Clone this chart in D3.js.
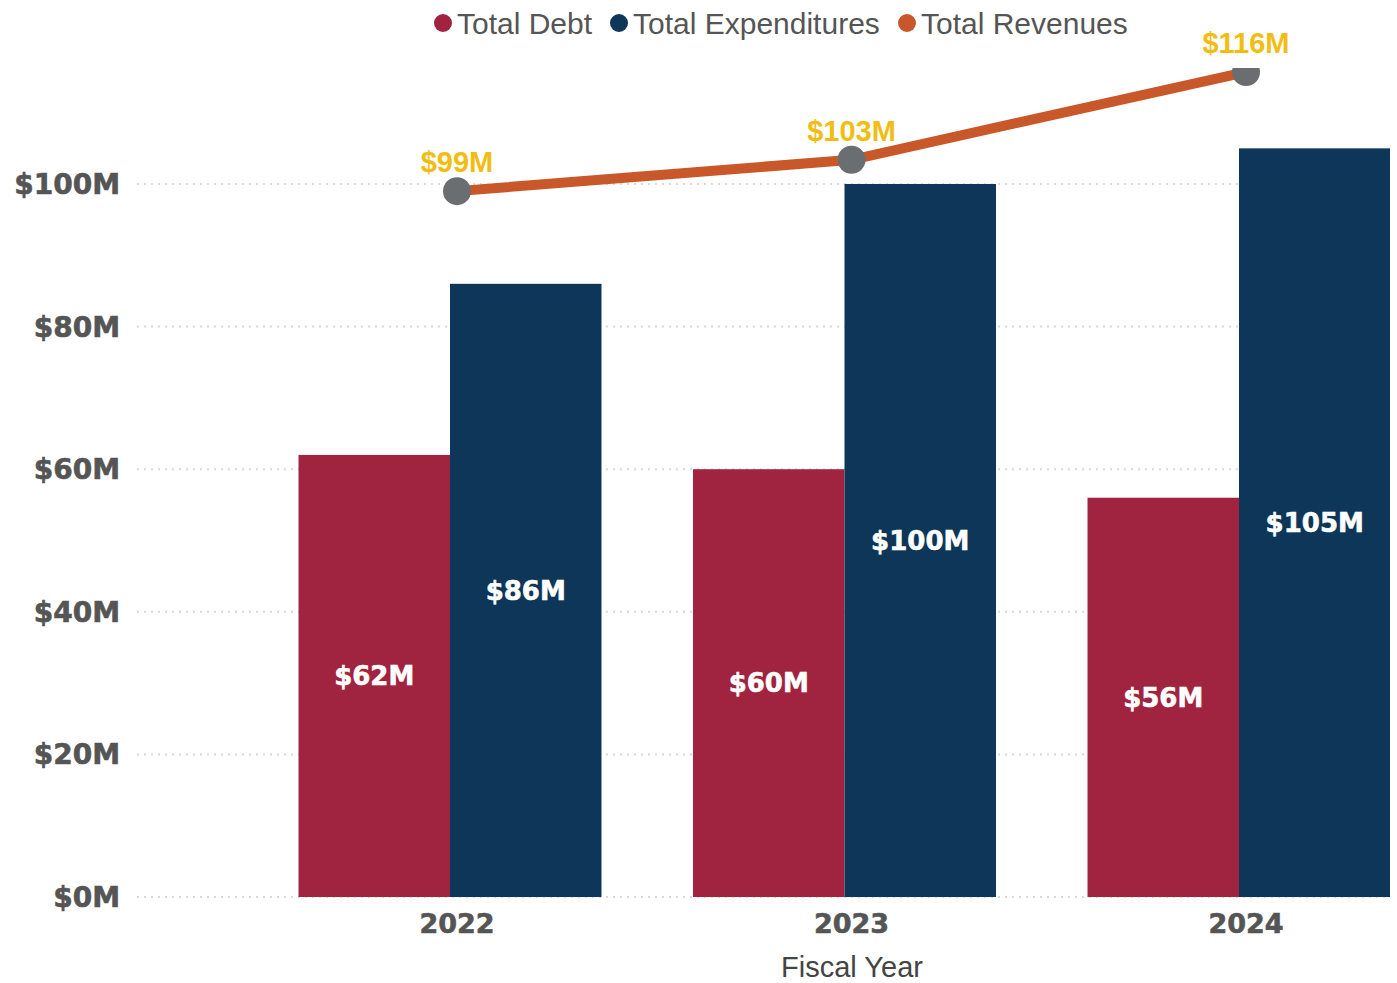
<!DOCTYPE html>
<html><head><meta charset="utf-8">
<script src="https://cdn.jsdelivr.net/npm/d3@7"></script>
<style>html,body{margin:0;padding:0;background:#fff;}</style>
</head><body>
<svg id="chart" width="1397" height="983"></svg>
<script>
const years = ["2022", "2023", "2024"];
const totalDebt = [62, 60, 56];
const totalExpenditures = [86, 100, 105];
const totalRevenues = [99, 103.4, 115.7];
const yTicks = [0, 20, 40, 60, 80, 100];
const seriesNames = ["Total Debt", "Total Expenditures", "Total Revenues"];
const seriesColors = ["#a0243f", "#0d3659", "#c8572a"];

const svg = d3.select("#chart");
const plotTop = 68, plotBottom = 897, gridLeft = 137, plotRight = 1390;

const y = d3.scaleLinear().domain([0, 100]).range([897, 184]);
const x = d3.scaleBand().domain(years).range([252.75, 1436.25]).paddingInner(0.232).paddingOuter(0.116);
const sub = d3.scaleBand().domain(["debt", "exp"]).range([0, x.bandwidth()]);

svg.append("defs").append("clipPath").attr("id", "plotclip")
  .append("rect").attr("x", gridLeft).attr("y", plotTop).attr("width", plotRight - gridLeft).attr("height", plotBottom - plotTop + 2);

svg.append("g").selectAll("line").data(yTicks).join("line")
  .attr("x1", gridLeft).attr("x2", plotRight)
  .attr("y1", d => y(d)).attr("y2", d => y(d))
  .attr("stroke", "#d9d9d9").attr("stroke-width", 2).attr("stroke-dasharray", "2,5");

svg.append("g").selectAll("text").data(yTicks).join("text")
  .attr("x", 120).attr("y", d => y(d)).attr("dy", "0.36em")
  .attr("text-anchor", "end")
  .attr("font-family", "DejaVu Sans").attr("font-weight", "bold").attr("font-size", 28)
  .attr("fill", "#555").attr("stroke", "#555").attr("stroke-width", 0.6)
  .text(d => "$" + d + "M");

const plot = svg.append("g").attr("clip-path", "url(#plotclip)");

const rows = years.map((yr, i) => ({ yr, debt: totalDebt[i], exp: totalExpenditures[i], rev: totalRevenues[i] }));

["debt", "exp"].forEach((k, si) => {
  plot.append("g").selectAll("rect").data(rows).join("rect")
    .attr("x", d => x(d.yr) + sub(k))
    .attr("width", sub.bandwidth())
    .attr("y", d => y(d[k]))
    .attr("height", d => y(0) - y(d[k]))
    .attr("fill", seriesColors[si]);
  svg.append("g").selectAll("text").data(rows).join("text")
    .attr("x", d => x(d.yr) + sub(k) + sub.bandwidth() / 2)
    .attr("y", d => (y(d[k]) + y(0)) / 2).attr("dy", "0.36em")
    .attr("text-anchor", "middle")
    .attr("font-family", "DejaVu Sans").attr("font-weight", "bold").attr("font-size", 26)
    .attr("fill", "#fff").attr("stroke", "#fff").attr("stroke-width", 0.6)
    .text(d => "$" + d[k] + "M");
});

const lineOffset = 7;
const lx = d => x(d.yr) + x.bandwidth() / 2 + lineOffset;
plot.append("path").datum(rows)
  .attr("d", d3.line().x(lx).y(d => y(d.rev)))
  .attr("fill", "none").attr("stroke", seriesColors[2]).attr("stroke-width", 10);
plot.append("g").selectAll("circle").data(rows).join("circle")
  .attr("cx", lx).attr("cy", d => y(d.rev)).attr("r", 14)
  .attr("fill", "#6b6e70");
svg.append("g").selectAll("text").data(rows).join("text")
  .attr("x", lx).attr("y", d => y(d.rev) - 19)
  .attr("text-anchor", "middle")
  .attr("font-family", "Liberation Sans").attr("font-weight", "bold").attr("font-size", 29)
  .attr("fill", "#f2bd12").text(d => "$" + Math.round(d.rev) + "M");

svg.append("g").selectAll("text").data(years).join("text")
  .attr("x", d => x(d) + x.bandwidth() / 2 + 7).attr("y", 933)
  .attr("text-anchor", "middle")
  .attr("font-family", "DejaVu Sans").attr("font-weight", "bold").attr("font-size", 27)
  .attr("fill", "#555").attr("stroke", "#555").attr("stroke-width", 0.6)
  .text(d => d);

svg.append("text").attr("x", 852).attr("y", 977).attr("text-anchor", "middle")
  .attr("font-family", "Liberation Sans").attr("font-size", 29).attr("fill", "#444").text("Fiscal Year");

const legX = [443, 619, 907];
const leg = svg.append("g");
seriesNames.forEach((n, i) => {
  leg.append("circle").attr("cx", legX[i]).attr("cy", 23).attr("r", 9).attr("fill", seriesColors[i]);
  leg.append("text").attr("x", legX[i] + 14).attr("y", 23).attr("dy", "0.36em")
    .attr("font-family", "Liberation Sans").attr("font-size", 30).attr("fill", "#555").text(n);
});
</script>
</body></html>
